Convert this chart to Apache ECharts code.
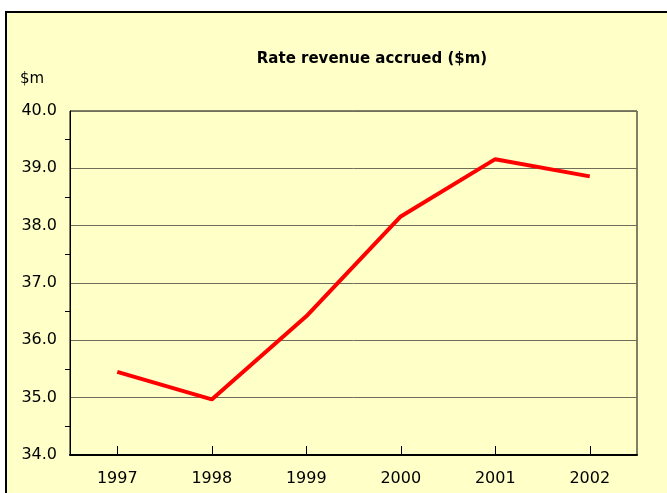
<!DOCTYPE html>
<html><head><meta charset="utf-8">
<script src="https://cdn.jsdelivr.net/npm/echarts@6/dist/echarts.min.js"></script>
<style>html,body{margin:0;padding:0;background:#fff}#c{width:667px;height:493px}</style>
</head><body><div id="c"></div>
<script>
const categories = ['1997','1998','1999','2000','2001','2002'];
const revenue = [35.45, 34.97, 36.42, 38.16, 39.16, 38.86];
const yTicks = [34, 35, 36, 37, 38, 39, 40];

const chart = echarts.init(document.getElementById('c'), null, {renderer:'canvas'});
chart.setOption({
  backgroundColor: '#ffffff',
  animation: false,
  graphic: [
    {type:'rect', z:-10, shape:{x:6, y:12, width:700, height:520}, style:{fill:'#FFFFC8', stroke:'#000', lineWidth:2}},
    {type:'text', left:20, top:72, style:{text:'$m', font:'15px "DejaVu Sans", Verdana, sans-serif', fill:'#000'}}
  ],
  title: {
    text: 'Rate revenue accrued ($m)', left: 367, top: 47, textAlign: 'center',
    textStyle: {fontFamily: '"DejaVu Sans", Verdana, sans-serif', fontWeight: 'bold', fontSize: 15, color: '#000'}
  },
  grid: {left:70, right:30, top:111, bottom:38, show:true, borderColor:'#000', borderWidth:1, backgroundColor:'transparent'},
  xAxis: {
    type:'category', data: categories, boundaryGap:true,
    axisLine:{lineStyle:{color:'#000', width:2}},
    axisTick:{show:true, inside:true, alignWithLabel:true, length:9, lineStyle:{color:'#000'}},
    axisLabel:{color:'#000', fontSize:16, fontFamily:'"DejaVu Sans", Verdana, sans-serif', margin:16}
  },
  yAxis: {
    type:'value', min:yTicks[0], max:yTicks[yTicks.length-1], interval:1,
    axisLine:{show:true, lineStyle:{color:'#000', width:1}},
    axisTick:{show:false},
    minorTick:{show:true, splitNumber:2, length:5, lineStyle:{color:'#000'}},
    splitLine:{show:true, lineStyle:{color:'#6e6e5a', width:1}},
    axisLabel:{color:'#000', fontSize:16, fontFamily:'"DejaVu Sans", Verdana, sans-serif', margin:13, formatter:v=>v.toFixed(1)}
  },
  series: [{
    type:'line', data: revenue, symbol:'none', smooth:false,
    lineStyle:{color:'#FF0000', width:4}
  }]
});
</script></body></html>
